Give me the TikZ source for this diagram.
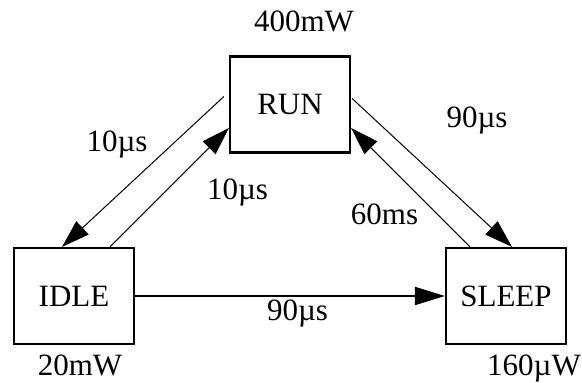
\documentclass[tikz,border=0pt]{standalone}
\usepackage{fontspec}
\setmainfont{Liberation Serif}
\usetikzlibrary{arrows.meta}
\begin{document}
\begin{tikzpicture}[x=1pt,y=1pt,
  state/.style={draw,line width=2.2pt,minimum width=120pt,minimum height=96pt,inner sep=0pt,font=\fontsize{31}{36}\selectfont},
  lbl/.style={anchor=base,inner sep=0pt,font=\fontsize{31}{36}\selectfont},
  thin arrow/.style={line width=1pt,-{Triangle[length=28pt,width=18pt]}},
  thick arrow/.style={line width=2pt,-{Triangle[length=30pt,width=18pt]}}]
\useasboundingbox (0,0) rectangle (582,383);
\node[state] (run) at (290,278.5) {RUN};
\node[state] (idle) at (74,87) {IDLE};
\node[state] (sleep) at (506,87) {SLEEP};
\node[lbl] (prun) at (304,351) {400mW};
\node[lbl] (pidle) at (80,7) {20mW};
\node[lbl] (psleep) at (534,7) {160µW};
\draw[thin arrow] ([shift={(-5,8)}]run.west) -- ([xshift=-12]idle.north);
\draw[thin arrow] ([xshift=36]idle.north) -- ([yshift=-23.5]run.west);
\draw[thin arrow] ([shift={(1,6)}]run.east) -- ([xshift=6]sleep.north);
\draw[thin arrow] ([xshift=-36]sleep.north) -- ([yshift=-23.5]run.east);
\draw[thick arrow] (idle.east) -- (sleep.west);
\node[lbl] (t1) at (117,231) {10µs};
\node[lbl] (t2) at (237.5,183) {10µs};
\node[lbl] (t3) at (477,255) {90µs};
\node[lbl] (t4) at (384.5,158) {60ms};
\node[lbl] (t5) at (297.5,62) {90µs};
\end{tikzpicture}
\end{document}
